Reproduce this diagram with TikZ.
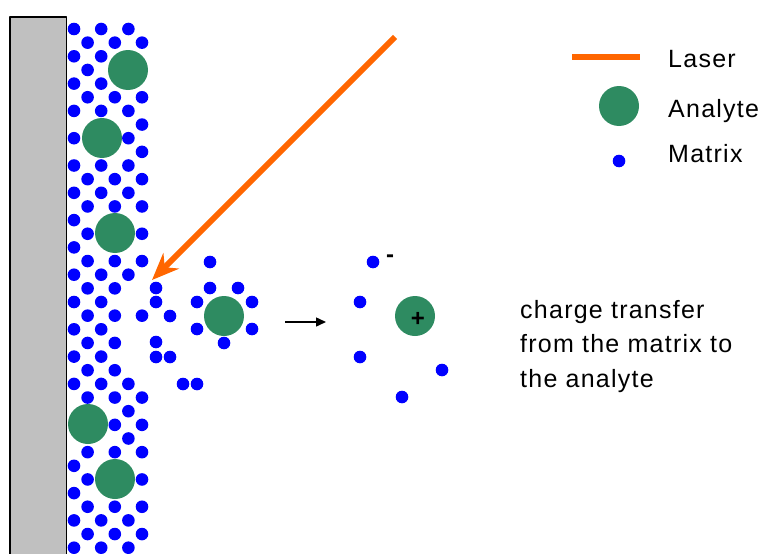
\documentclass[tikz,border=0pt]{standalone}
\usepackage{fontspec}
\setmainfont{Liberation Sans}
\usetikzlibrary{arrows.meta}
\definecolor{laserorange}{RGB}{255,102,0}
\definecolor{analytegreen}{RGB}{46,139,97}
\definecolor{matrixblue}{RGB}{0,0,255}
\definecolor{plategray}{RGB}{192,192,192}
\newcommand{\labelfont}{\fontsize{25}{34.5}\selectfont\addfontfeatures{LetterSpace=5}}

\tikzset{
    mdot/.style={circle, fill=matrixblue, inner sep=0pt, minimum size=12.6pt},
    analyte/.style={circle, fill=analytegreen, inner sep=0pt, minimum size=40pt},
    beam/.style={laserorange, line width=6pt},
    legendtext/.style={anchor=base west, inner sep=0pt, font=\labelfont},
    charge/.style={inner sep=0pt, font=\fontsize{24}{24}\selectfont\bfseries},
}

% lattice sites that stay empty (analyte molecules, ablated spot)
\def\skiplist{4-2,3-3,5-3,4-4,2-8,1-7,3-7,1-9,3-9,3-15,2-14,4-14,2-16,4-16,1-29,0-28,2-28,0-30,2-30,3-33,2-32,4-32,2-34,4-34,5-19,4-20,4-22,5-23,4-24,5-25}

\begin{document}
\begin{tikzpicture}[line cap=butt, line join=round, x=1pt, y=-1pt]
    \useasboundingbox (0,0) rectangle (764,554);

    % sample plate
    \draw[fill=plategray, line width=1.3pt] (10,600) -- (10,17) -- (66.5,17) -- (66.5,600);

    % matrix crystal
    \foreach \p in \skiplist {\expandafter\gdef\csname skip@\p\endcsname{}}
    \foreach \j in {0,...,38} {
        \foreach \i in {0,1,2} {
            \pgfmathtruncatemacro{\k}{2*\i+mod(\j,2)}
            \ifcsname skip@\k-\j\endcsname\else
                \node[mdot] (m-\k-\j) at ({74+13.6*\k},{29+13.65*\j}) {};
            \fi
        }
    }

    % analyte embedded in the crystal
    \node[analyte] (A1) at (128,70) {};
    \node[analyte] (A2) at (102,138) {};
    \node[analyte] (A3) at (115,233) {};
    \node[analyte] (A4) at (88,424) {};
    \node[analyte] (A5) at (115,479) {};

    % ablated matrix
    \foreach \x/\y [count=\n] in {156/288, 156/302, 170/316, 156/342, 156/357, 170/357, 183/384, 197/384} {
        \node[mdot] (d\n) at (\x,\y) {};
    }

    % desorbed analyte with its matrix shell
    \node[analyte] (plume) at (224,316) {};
    \foreach \x/\y [count=\n] in {210/262, 210/288, 238/288, 197/302, 252/302, 197/329, 252/329, 224/343} {
        \node[mdot] (s\n) at (\x,\y) {};
    }

    % laser beam
    \coordinate (laser-src) at (395,37);
    \coordinate (laser-hit) at (152,280);
    \draw[beam, -{Stealth[length=27pt, width=22pt, inset=9pt]}] (laser-src) -- (laser-hit);

    % step to the ionised state
    \coordinate (step-a) at (285,322);
    \coordinate (step-b) at (326,322);
    \draw[line width=1.5pt, -{Triangle[length=10pt, width=9pt]}] (step-a) -- (step-b);

    % ion pair after charge transfer
    \node[analyte] (ion) at (415,316) {};
    \node[charge] (plus) at (418,319) {+};
    \node[mdot] (e1) at (373,262) {};
    \node[charge] (minus) at (390,259) {-};
    \node[mdot] (e2) at (360,302) {};
    \node[mdot] (e3) at (360,357) {};
    \node[mdot] (e4) at (442,370) {};
    \node[mdot] (e5) at (402,397) {};

    \node[anchor=north west, align=left, inner sep=0pt, font=\labelfont] (note) at (520,300)
        {charge transfer\\from the matrix to\\the analyte};

    % legend
    \coordinate (key-a) at (572,57);
    \coordinate (key-b) at (640,57);
    \draw[beam] (key-a) -- (key-b);
    \node[legendtext] (t-laser) at (668,67) {Laser};
    \node[analyte] (key-analyte) at (619,106) {};
    \node[legendtext] (t-analyte) at (668,117) {Analyte};
    \node[mdot] (key-matrix) at (619,161) {};
    \node[legendtext] (t-matrix) at (668,162) {Matrix};
\end{tikzpicture}
\end{document}
